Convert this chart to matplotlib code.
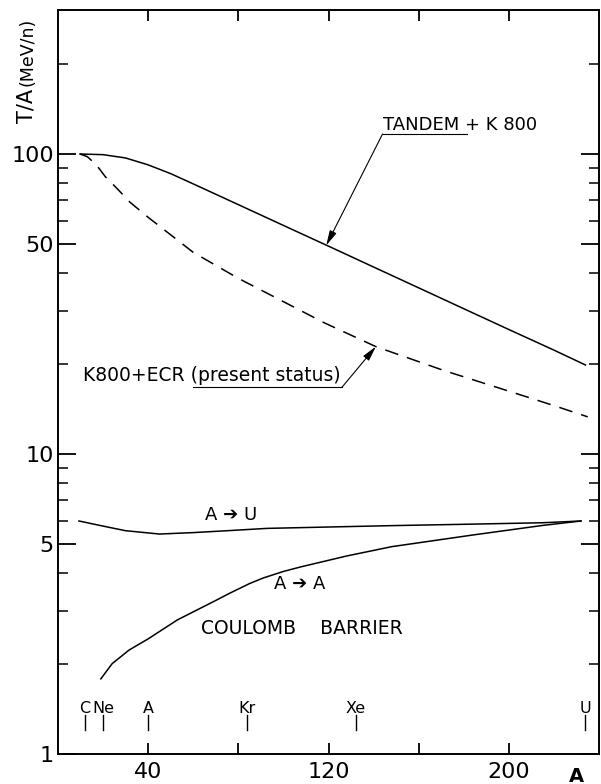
import matplotlib
matplotlib.use('Agg')
from matplotlib import pyplot as plt
from matplotlib.ticker import FixedLocator, FixedFormatter, NullFormatter

# TANDEM + K 800 (solid)
tandemA = [9.75, 20, 30, 40, 50, 60, 80, 100, 120, 140, 160, 180, 200, 220, 234]
tandemT = [100, 99.5, 97, 92, 86, 79.5, 67.8, 57.8, 49.3, 42.0, 35.8, 30.5, 26.0, 22.2, 19.8]

# K800 + ECR present status (dashed)
ecrA = [9.75, 13, 17, 21, 26, 32, 40, 60, 80, 100, 118, 141, 171, 200, 220, 235]
ecrT = [100, 98, 92, 84, 77, 69, 61.5, 47, 38.5, 32.2, 27.4, 22.8, 19.0, 16.2, 14.5, 13.3]

# A -> U
auA = [9.3, 20, 30, 45, 60, 75, 92.7, 120, 147.7, 180, 215, 232]
auT = [5.98, 5.75, 5.55, 5.41, 5.47, 5.55, 5.65, 5.71, 5.77, 5.83, 5.90, 5.98]

# A -> A (Coulomb barrier)
aaA = [19, 24, 31.5, 40, 53, 70, 76, 85, 91, 100, 108, 128, 148, 184, 215, 232]
aaT = [1.78, 2.0, 2.22, 2.42, 2.80, 3.25, 3.43, 3.70, 3.86, 4.06, 4.21, 4.57, 4.91, 5.37, 5.78, 5.98]

# projectile markers
elements = ['C', 'Ne', 'A', 'Kr', 'Xe', 'U']
elementA = [12, 20, 40, 84, 132, 234]

plt.rcParams['font.family'] = 'DejaVu Sans'

fig = plt.figure(figsize=(6.01, 7.84), dpi=100)
ax = fig.add_axes([58/601, 30/784, 541/601, 744/784])
ax.set_yscale('log')
ax.set_xlim(0, 240)
ax.set_ylim(1, 302)

ax.plot(tandemA, tandemT, color='k', lw=1.1)
ax.plot(ecrA, ecrT, color='k', lw=1.1, dashes=(9, 6))
ax.plot(auA, auT, color='k', lw=1.1)
ax.plot(aaA, aaT, color='k', lw=1.1)

for s in ax.spines.values():
    s.set_linewidth(1.4)

ax.yaxis.set_major_locator(FixedLocator([1, 5, 10, 50, 100]))
ax.yaxis.set_major_formatter(FixedFormatter(['1', '5', '10', '50', '100']))
ax.yaxis.set_minor_locator(FixedLocator([2, 3, 4, 6, 7, 8, 9, 20, 30, 40, 60, 70, 80, 90, 200]))
ax.yaxis.set_minor_formatter(NullFormatter())
ax.tick_params(axis='y', which='major', direction='in', length=13, width=1.3,
               right=True, labelsize=16, pad=3)
ax.tick_params(axis='y', which='minor', direction='in', length=7, width=1.1, right=True)
ax.set_xticks([40, 80, 120, 160, 200])
ax.set_xticklabels(['40', '', '120', '', '200'])
ax.tick_params(axis='x', direction='in', length=8, width=1.3, top=True,
               labelsize=16, pad=6)

# element markers
for el, a in zip(elements, elementA):
    ax.text(a, 1.42, el, ha='center', va='center', fontsize=11.5)
    ax.plot([a, a], [1.20, 1.35], color='k', lw=1.0)

# labels on curves
ax.text(144, 120, 'TANDEM + K 800', fontsize=13, ha='left', va='baseline')
ax.plot([144, 181.5], [116.7, 116.7], color='k', lw=0.8)
ax.annotate('', xy=(119, 49.6), xytext=(144, 116.7),
            arrowprops=dict(arrowstyle='-|>,head_length=0.9,head_width=0.22',
                            lw=0.8, color='k', shrinkA=0, shrinkB=0))

ax.text(11, 18.3, 'K800+ECR (present status)', fontsize=13.5, ha='left', va='center')
ax.plot([60, 126], [16.7, 16.7], color='k', lw=0.8)
ax.annotate('', xy=(141, 22.8), xytext=(126, 16.7),
            arrowprops=dict(arrowstyle='-|>,head_length=0.9,head_width=0.22',
                            lw=0.8, color='k', shrinkA=0, shrinkB=0))

ax.text(65, 6.27, 'A \u2794 U', fontsize=13, ha='left', va='center')
ax.text(96, 3.69, 'A \u2794 A', fontsize=13, ha='left', va='center')
ax.text(108, 2.63, 'COULOMB    BARRIER', fontsize=13.5, ha='center', va='center')

# axis titles
fig.text(33/601, 1 - 123/784, 'T/A', rotation=90, rotation_mode='anchor',
         fontsize=15, ha='left', va='baseline')
fig.text(33/601, 1 - 86/784, '(MeV/n)', rotation=90, rotation_mode='anchor',
         fontsize=12.5, ha='left', va='baseline')
fig.text(576/601, 1 - 776/784, 'A', fontsize=14, fontweight='bold', ha='center', va='center')

fig.savefig('out.png', dpi=100)
